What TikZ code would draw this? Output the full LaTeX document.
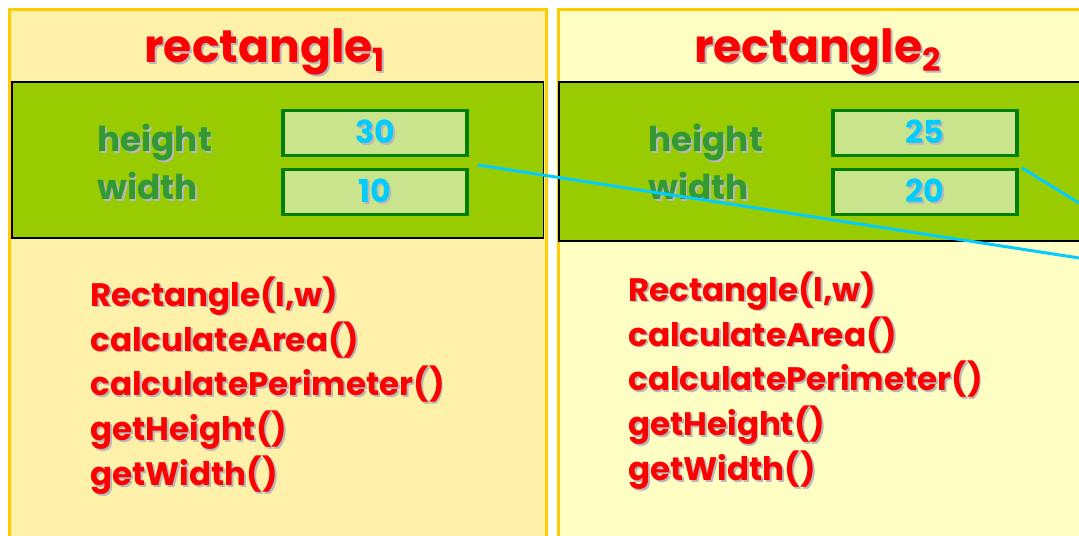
\documentclass[tikz,border=0pt]{standalone}
\usepackage{fontspec}
\setmainfont{Poppins}
\usetikzlibrary{positioning}

\definecolor{paneledge}{HTML}{FFCC00}
\definecolor{panelone}{HTML}{FFF0AA}
\definecolor{paneltwo}{HTML}{FFFFC4}
\definecolor{fieldgreen}{HTML}{99CC00}
\definecolor{boxedge}{HTML}{008000}
\definecolor{boxfill}{HTML}{C9E48C}
\definecolor{labelgreen}{HTML}{339933}
\definecolor{valcyan}{HTML}{00CCFF}
\definecolor{methred}{HTML}{FF0000}

% grey drop shadow behind a line of text
\newcommand{\shd}[1]{\leavevmode\rlap{\kern1.1pt\raisebox{-1.1pt}{\textcolor{black!28}{#1}}}#1}

\begin{document}
\begin{tikzpicture}[
    x=0.02cm, y=-0.02cm,
    panel/.style={draw=paneledge, line width=1.7pt, anchor=north west, inner sep=0pt},
    field/.style={draw=black, line width=0.9pt, fill=fieldgreen, anchor=north west, inner sep=0pt},
    valbox/.style={draw=boxedge, line width=1.8pt, fill=boxfill, minimum width=3.68cm, minimum height=0.9cm, inner sep=0pt,
        font=\fontsize{18}{20}\selectfont\bfseries, text=valcyan},
    attr/.style={anchor=base west, inner sep=0pt, font=\fontsize{19.5}{24}\selectfont\bfseries, text=labelgreen},
    title/.style={anchor=base, inner sep=0pt, font=\fontsize{26}{32}\selectfont\bfseries, text=methred},
    methods/.style={anchor=north west, inner sep=0pt, align=left, font=\fontsize{18.5}{25.6}\selectfont\bfseries, text=methred},
    ref/.style={draw=valcyan, line width=1.7pt}
]
\useasboundingbox (0,0) rectangle (1079,536);
\clip (0,0) rectangle (1079,536);
\fill[white] (0,0) rectangle (1079,536);

% Panels
\node (panel1) [panel, fill=panelone, minimum width=10.74cm, minimum height=11.2cm] at (8,8) {};
\node (panel2) [panel, fill=paneltwo, minimum width=11.2cm, minimum height=11.2cm] at (557,8) {};

% Titles
\node (title1) [title] at (265,63) {\shd{rectangle$_{\mathbf{1}}$}};
\node (title2) [title] at (818,63) {\shd{rectangle$_{\mathbf{2}}$}};

% Data fields
\node (field1) [field, minimum width=10.64cm, minimum height=3.12cm] at (11,81) {};
\node (field2) [field, minimum width=11.2cm, minimum height=3.18cm] at (558,81) {};

\node (height1) [attr] at (97,152) {\shd{height}};
\node (width1) [attr] at (97,200) {\shd{width}};
\node (hval1) [valbox] at (375,133) {\raisebox{-2pt}{\shd{30}}};
\node (wval1) [valbox] at (375,192) {\raisebox{-2pt}{\shd{10}}};

\node (height2) [attr] at (648,152) {\shd{height}};
\node (width2) [attr] at (648,200) {\shd{width}};
\node (hval2) [valbox] at (925,133) {\raisebox{-2pt}{\shd{25}}};
\node (wval2) [valbox] at (925,192) {\raisebox{-2pt}{\shd{20}}};

% Methods
\node (meth1) [methods] at (90,276) {\shd{Rectangle(l,w)}\\\shd{calculateArea()}\\\shd{calculatePerimeter()}\\\shd{getHeight()}\\\shd{getWidth()}};
\node (meth2) [methods] at (628,271) {\shd{Rectangle(l,w)}\\\shd{calculateArea()}\\\shd{calculatePerimeter()}\\\shd{getHeight()}\\\shd{getWidth()}};

% References
\coordinate (ref1) at (478,165);
\coordinate (out1) at (1079,258);
\coordinate (ref2) at (1022,168);
\coordinate (out2) at (1079,203);
\draw [ref] (ref1) -- (out1);
\draw [ref] (ref2) -- (out2);

\end{tikzpicture}
\end{document}
